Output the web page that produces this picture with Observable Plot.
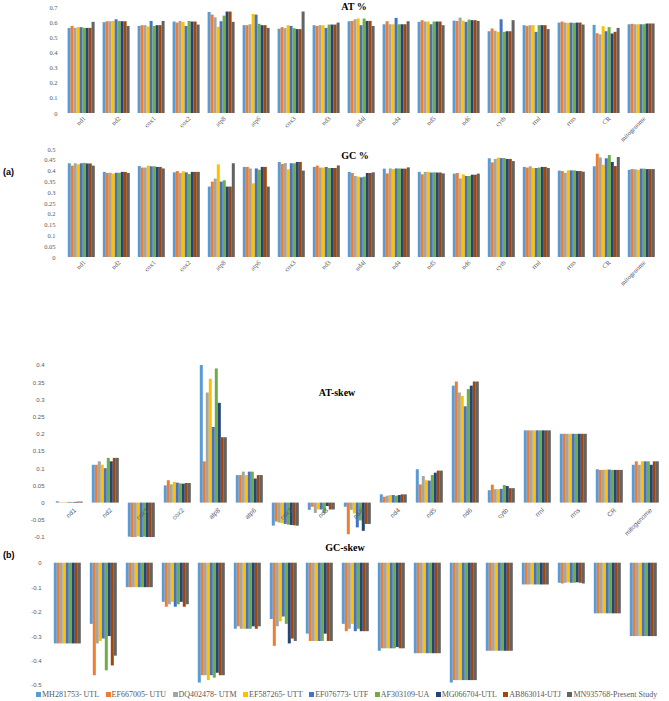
<!DOCTYPE html>
<html><head><meta charset="utf-8">
<script src="https://cdn.jsdelivr.net/npm/d3@7"></script>
<script src="https://cdn.jsdelivr.net/npm/@observablehq/plot@0.6"></script>
<style>
body{margin:0;background:#fff;}
#root{position:relative;width:669px;height:701px;overflow:hidden;background:#fff;}
.panel{position:absolute;left:0;}
.title{position:absolute;font:bold 10px "Liberation Serif",serif;color:#000;transform:translateX(-50%);white-space:nowrap;line-height:1}
.tag{position:absolute;font:bold 9px "Liberation Sans",sans-serif;line-height:1;color:#000}
#legend{position:absolute;top:691px;left:36px;display:flex;gap:6.5px;font:8px "Liberation Serif",serif;color:#595959;line-height:1;white-space:nowrap}
#legend span.sw{display:inline-block;width:5px;height:5px;margin-right:1px;vertical-align:0px}
</style></head><body><div id="root"></div>
<script>
const categories = ["nd1","nd2","cox1","cox2","atp8","atp6","cox3","nd3","nd4l","nd4","nd5","nd6","cytb","rrnl","rrns","CR","mitogenome"];
const series = ["MH281753- UTL","EF667005- UTU","DQ402478- UTM","EF587265- UTT","EF076773- UTF","AF303109-UA","MG066704-UTL","AB863014-UTJ","MN935768-Present Study"];
const colors = ["#5B9BD5","#ED7D31","#A5A5A5","#FFC000","#4472C4","#70AD47","#264478","#9E480E","#636363"];

const atPercent = [
  [0.562,0.575,0.562,0.567,0.567,0.562,0.562,0.562,0.602],
  [0.600,0.606,0.606,0.608,0.619,0.608,0.606,0.606,0.575],
  [0.575,0.580,0.580,0.571,0.608,0.575,0.580,0.580,0.608],
  [0.604,0.597,0.608,0.600,0.575,0.608,0.604,0.604,0.584],
  [0.667,0.650,0.632,0.569,0.606,0.643,0.670,0.670,0.602],
  [0.580,0.580,0.586,0.654,0.650,0.589,0.580,0.580,0.562],
  [0.556,0.567,0.560,0.580,0.575,0.560,0.554,0.554,0.670],
  [0.580,0.575,0.580,0.580,0.562,0.584,0.584,0.584,0.597],
  [0.606,0.608,0.619,0.624,0.580,0.624,0.608,0.608,0.575],
  [0.586,0.606,0.586,0.586,0.628,0.586,0.586,0.586,0.606],
  [0.602,0.613,0.604,0.604,0.586,0.604,0.604,0.604,0.580],
  [0.610,0.608,0.630,0.610,0.602,0.617,0.613,0.613,0.608],
  [0.540,0.558,0.543,0.536,0.619,0.536,0.540,0.540,0.613],
  [0.580,0.575,0.580,0.580,0.536,0.580,0.580,0.580,0.554],
  [0.597,0.604,0.597,0.595,0.597,0.595,0.597,0.597,0.584],
  [0.582,0.527,0.519,0.573,0.540,0.567,0.525,0.536,0.562],
  [0.586,0.589,0.586,0.586,0.586,0.586,0.591,0.591,0.591]
];
const gcPercent = [
  [0.434,0.423,0.434,0.429,0.434,0.436,0.433,0.433,0.423],
  [0.394,0.389,0.390,0.386,0.390,0.390,0.394,0.394,0.389],
  [0.421,0.414,0.414,0.423,0.420,0.420,0.417,0.417,0.410],
  [0.392,0.398,0.389,0.397,0.392,0.384,0.394,0.394,0.394],
  [0.326,0.349,0.363,0.429,0.349,0.355,0.326,0.326,0.434],
  [0.417,0.417,0.410,0.341,0.410,0.404,0.417,0.417,0.326],
  [0.440,0.431,0.435,0.406,0.434,0.434,0.440,0.440,0.400],
  [0.417,0.423,0.414,0.414,0.417,0.412,0.412,0.412,0.424],
  [0.394,0.389,0.375,0.372,0.369,0.372,0.389,0.389,0.392],
  [0.409,0.387,0.410,0.407,0.410,0.410,0.409,0.409,0.415],
  [0.394,0.383,0.394,0.394,0.391,0.392,0.391,0.391,0.387],
  [0.386,0.389,0.364,0.383,0.375,0.375,0.381,0.381,0.386],
  [0.457,0.438,0.454,0.460,0.458,0.458,0.454,0.454,0.444],
  [0.417,0.414,0.420,0.412,0.412,0.414,0.417,0.417,0.412],
  [0.400,0.398,0.390,0.401,0.401,0.401,0.398,0.398,0.395],
  [0.420,0.478,0.461,0.427,0.457,0.472,0.440,0.421,0.463],
  [0.404,0.407,0.406,0.403,0.409,0.409,0.407,0.407,0.407]
];
const atSkew = [
  [0.004,0.001,0.001,0.002,0.002,0.002,0.002,0.003,0.003],
  [0.11,0.11,0.12,0.11,0.10,0.13,0.12,0.13,0.13],
  [-0.099,-0.1,-0.1,-0.098,-0.1,-0.099,-0.1,-0.1,-0.1],
  [0.05,0.065,0.053,0.06,0.058,0.056,0.055,0.057,0.057],
  [0.40,0.12,0.32,0.36,0.22,0.39,0.29,0.19,0.19],
  [0.08,0.08,0.09,0.08,0.09,0.09,0.07,0.08,0.08],
  [-0.067,-0.055,-0.058,-0.06,-0.062,-0.064,-0.065,-0.066,-0.067],
  [-0.021,-0.012,-0.03,-0.02,-0.02,-0.03,-0.01,-0.02,-0.02],
  [-0.012,-0.092,-0.021,-0.031,-0.072,-0.052,-0.082,-0.062,-0.062],
  [0.024,0.017,0.02,0.022,0.022,0.02,0.022,0.024,0.024],
  [0.097,0.053,0.077,0.065,0.064,0.08,0.087,0.093,0.093],
  [0.34,0.352,0.32,0.31,0.28,0.33,0.34,0.352,0.352],
  [0.036,0.052,0.039,0.039,0.04,0.051,0.048,0.042,0.042],
  [0.21,0.21,0.21,0.21,0.21,0.21,0.21,0.21,0.21],
  [0.20,0.20,0.20,0.20,0.20,0.20,0.20,0.20,0.20],
  [0.097,0.095,0.095,0.096,0.096,0.095,0.095,0.095,0.095],
  [0.11,0.12,0.11,0.12,0.12,0.12,0.11,0.12,0.12]
];
const gcSkew = [
  [-0.33,-0.33,-0.33,-0.33,-0.33,-0.33,-0.33,-0.33,-0.33],
  [-0.25,-0.46,-0.33,-0.32,-0.31,-0.44,-0.30,-0.42,-0.38],
  [-0.1,-0.1,-0.1,-0.1,-0.1,-0.1,-0.1,-0.1,-0.1],
  [-0.16,-0.18,-0.17,-0.16,-0.18,-0.17,-0.16,-0.18,-0.17],
  [-0.49,-0.46,-0.46,-0.48,-0.46,-0.47,-0.45,-0.46,-0.46],
  [-0.27,-0.26,-0.27,-0.27,-0.27,-0.27,-0.26,-0.27,-0.26],
  [-0.23,-0.34,-0.26,-0.24,-0.22,-0.25,-0.33,-0.31,-0.32],
  [-0.29,-0.32,-0.32,-0.32,-0.32,-0.32,-0.29,-0.32,-0.32],
  [-0.25,-0.28,-0.27,-0.25,-0.28,-0.27,-0.28,-0.28,-0.28],
  [-0.36,-0.35,-0.35,-0.35,-0.35,-0.35,-0.345,-0.35,-0.35],
  [-0.37,-0.37,-0.37,-0.37,-0.37,-0.37,-0.37,-0.37,-0.37],
  [-0.49,-0.48,-0.48,-0.48,-0.48,-0.48,-0.48,-0.48,-0.48],
  [-0.36,-0.36,-0.36,-0.36,-0.36,-0.36,-0.36,-0.36,-0.36],
  [-0.089,-0.089,-0.089,-0.089,-0.089,-0.089,-0.089,-0.089,-0.089],
  [-0.082,-0.085,-0.082,-0.08,-0.082,-0.082,-0.08,-0.082,-0.085],
  [-0.207,-0.207,-0.207,-0.207,-0.207,-0.207,-0.207,-0.207,-0.207],
  [-0.30,-0.30,-0.30,-0.30,-0.30,-0.30,-0.30,-0.30,-0.30]
];
const atTicks = [0,0.1,0.2,0.3,0.4,0.5,0.6,0.7];
const gcTicks = [0,0.05,0.1,0.15,0.2,0.25,0.3,0.35,0.4,0.45,0.5];
const atSkewTicks = [-0.1,-0.05,0,0.05,0.1,0.15,0.2,0.25,0.3,0.35,0.4];
const gcSkewTicks = [0,-0.1,-0.2,-0.3,-0.4,-0.5];

function table(values){
  return categories.flatMap((c,i)=>series.map((s,j)=>({category:c, series:s, value:values[i][j]})));
}
const root = document.getElementById("root");

function panel(o){
  const marks = [
    Plot.barY(table(o.values), {fx:"category", x:"series", y:"value", fill:"series"}),
    Plot.axisY(o.ticks, {tickSize:0, tickPadding:o.tickPadding, tickFormat:d=>String(d), label:null,
      fill:"#595959", fontSize:o.yFont, fontFamily:o.fontFamily})
  ];
  if (o.fxAxis) marks.push(Plot.text(categories, {fx:d=>d, y:()=>0, text:d=>d, rotate:-45,
      textAnchor:"end", dx:3, dy:4, fill:"#595959", fontSize:6.5, fontFamily:o.fontFamily}));
  if (o.zeroLabels) marks.push(Plot.text(categories, {fx:d=>d, y:()=>0, text:d=>d, rotate:-45,
      textAnchor:"end", dx:5, dy:6, fill:"#595959", fontSize:6.5, fontFamily:o.fontFamily}));
  const chart = Plot.plot({
    width:669, height:o.height,
    marginTop:o.marginTop, marginBottom:o.marginBottom, marginLeft:o.marginLeft, marginRight:o.marginRight,
    fx:{domain:categories, paddingInner:o.pi, paddingOuter:o.po, label:null, axis:null},
    x:{domain:series, padding:0.1, axis:null},
    y:{domain:o.domain, axis:null},
    color:{domain:series, range:colors},
    style:{fontFamily:o.fontFamily, background:"transparent", overflow:"visible"},
    marks
  });
  const d = document.createElement("div");
  d.className = "panel"; d.style.top = o.top + "px";
  d.appendChild(chart);
  root.appendChild(d);
}

const serif = "'Liberation Serif', serif";
const sans = "'Liberation Sans', sans-serif";

panel({values:atPercent, ticks:atTicks, domain:[0,0.7], top:0, height:140, marginTop:7, marginBottom:27,
  marginLeft:54.4, marginRight:2.6, pi:0.15, po:0.1, tickPadding:9, yFont:6.5, fontFamily:serif, fxAxis:true});
panel({values:gcPercent, ticks:gcTicks, domain:[0,0.5], top:140, height:145, marginTop:9, marginBottom:28,
  marginLeft:57.2, marginRight:3.2, pi:0.077, po:0.05, tickPadding:10, yFont:6.5, fontFamily:serif, fxAxis:true});
panel({values:atSkew, ticks:atSkewTicks, domain:[-0.1,0.4], top:355, height:190, marginTop:10, marginBottom:8,
  marginLeft:47.2, marginRight:2.1, pi:0.094, po:0.05, tickPadding:9, yFont:6, fontFamily:sans, zeroLabels:true});
panel({values:gcSkew, ticks:gcSkewTicks, domain:[-0.5,0], top:545, height:145, marginTop:17.7, marginBottom:5,
  marginLeft:46.2, marginRight:4, pi:0.194, po:0.05, tickPadding:12, yFont:6, fontFamily:sans});

function addText(cls, text, left, top){
  const t = document.createElement("div");
  t.className = cls; t.textContent = text;
  t.style.left = left + "px"; t.style.top = top + "px";
  root.appendChild(t);
}
addText("title","AT %",354,2);
addText("title","GC %",355,151);
addText("title","AT-skew",337,388);
addText("title","GC-skew",345,543);
addText("tag","(a)",3,168);
addText("tag","(b)",3,551);

const legend = document.createElement("div");
legend.id = "legend";
series.forEach((s,i)=>{
  const item = document.createElement("div");
  const sw = document.createElement("span");
  sw.className = "sw"; sw.style.background = colors[i];
  item.appendChild(sw);
  item.appendChild(document.createTextNode(s));
  legend.appendChild(item);
});
root.appendChild(legend);
</script></body></html>
